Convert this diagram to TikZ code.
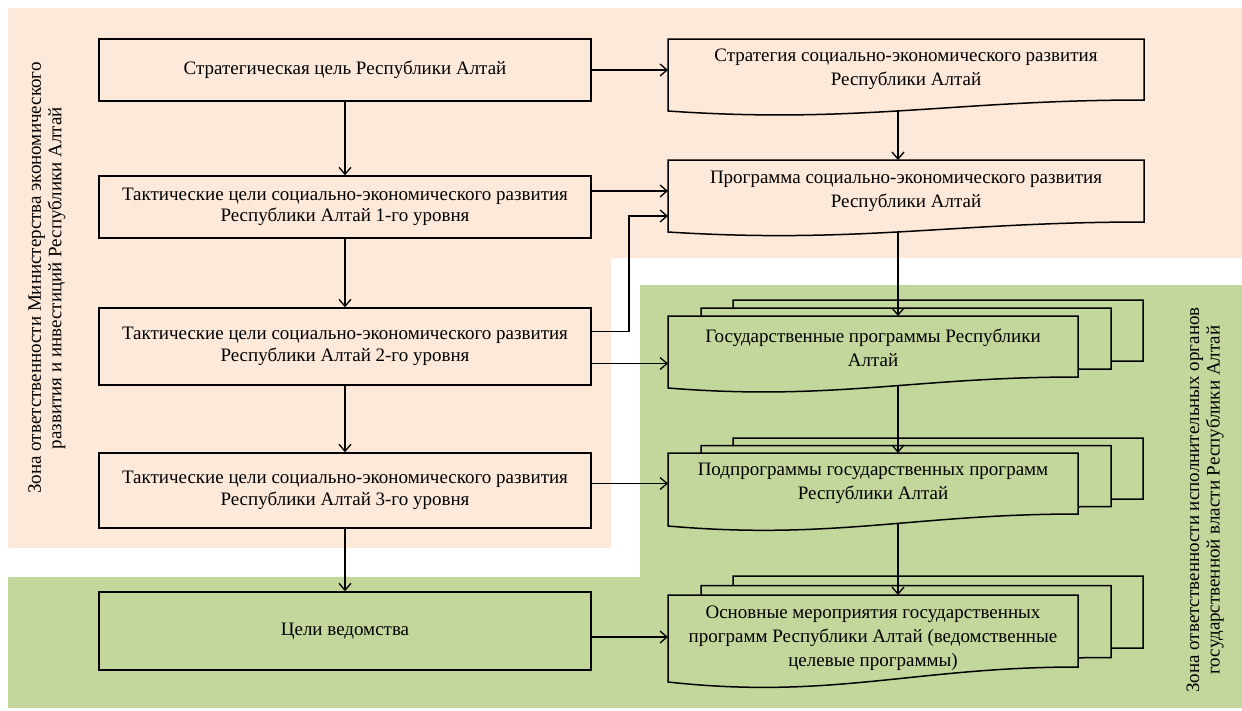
\documentclass[tikz,border=0pt]{standalone}
\usepackage{fontspec}
\setmainfont{Liberation Serif}
\usetikzlibrary{arrows.meta,calc}
\definecolor{peachbg}{HTML}{FDE9D9}
\definecolor{olivebg}{HTML}{C3D69B}
% #1 style, #2 L, #3 T, #4 R, #5 B (right bottom), #6 wave depth
\newcommand\docshape[6]{%
  \path[#1] (#2,#3) -- (#4,#3) -- (#4,#5)
    .. controls ({#4-0.4*(#4-#2)},#5) and ({#2+0.4*(#4-#2)},{#5+2.2*#6}) ..
    (#2,{#5+#6}) -- cycle;}
% #1 name, #2 L, #3 T, #4 R, #5 B, #6 wave depth, #7 layer step y
\newcommand\multidoc[7]{%
  \docshape{docg}{#2+65}{#3-2*#7}{#4+65}{#5-2*#7}{#6}
  \docshape{docg}{#2+33}{#3-#7}{#4+33}{#5-#7}{#6}
  \docshape{docg}{#2}{#3}{#4}{#5}{#6}
  \node[rect, minimum width={(#4-#2)*1pt}, minimum height={(#5-#3)*1pt}] (#1) at (#2,#3) {};}
\tikzset{
  x=1pt, y=-1pt,
  txt/.style={font=\fontsize{19}{21.5}\selectfont, align=center, inner sep=0pt},
  dtxt/.style={font=\fontsize{19}{24}\selectfont, align=center, inner sep=0pt},
  ztxt/.style={font=\fontsize{19}{20.5}\selectfont, align=center, inner sep=0pt, rotate=90},
  lbox/.style={draw, line width=1.5pt, minimum width=492pt, inner sep=0pt, txt},
  docp/.style={draw, line width=1.5pt, fill=peachbg, line join=miter},
  docg/.style={draw, line width=1.5pt, fill=olivebg, line join=miter},
  rect/.style={rectangle, inner sep=0pt, outer sep=0pt, anchor=north west},
  arr/.style={-{Straight Barb[length=7pt,width=12pt,line width=1.3pt]}, line width=1.3pt},
}
\begin{document}
\begin{tikzpicture}
\useasboundingbox (0,0) rectangle (1242,710);
% zones
\fill[peachbg] (8,8) -- (1242,8) -- (1242,258) -- (611,258) -- (611,548) -- (8,548) -- cycle;
\fill[olivebg] (640,285) -- (1242,285) -- (1242,708) -- (8,708) -- (8,577) -- (640,577) -- cycle;
% zone labels
\node[ztxt] (zl) at (47,278)
  {Зона ответственности Министерства экономического\\развития и инвестиций Республики Алтай};
\node[ztxt] (zr) at (1205,500)
  {Зона ответственности исполнительных органов\\государственной власти Республики Алтай};
% left boxes
\node[lbox, minimum height=62pt] (b1) at (345,70) {Стратегическая цель Республики Алтай};
\node[lbox, minimum height=62pt] (b2) at (345,207) {Тактические цели социально-экономического развития\\Республики Алтай 1-го уровня};
\node[lbox, minimum height=77pt] (b3) at (345,346.5) {Тактические цели социально-экономического развития\\Республики Алтай 2-го уровня};
\node[lbox, minimum height=75pt] (b4) at (345,490.5) {Тактические цели социально-экономического развития\\Республики Алтай 3-го уровня};
\node[lbox, minimum height=78pt] (b5) at (345,631) {Цели ведомства};
% right single documents
\docshape{docp}{668}{39}{1144}{100}{11}
\node[rect, minimum width=476pt, minimum height=61pt] (strat) at (668,39) {};
\node[dtxt] (strat-t) at (strat.center) {Стратегия социально-экономического развития\\Республики Алтай};
\docshape{docp}{668}{160}{1144}{222}{10}
\node[rect, minimum width=476pt, minimum height=62pt] (prog) at (668,160) {};
\node[dtxt] (prog-t) at (prog.center) {Программа социально-экономического развития\\Республики Алтай};
% multi documents
\multidoc{gos}{668}{316}{1078}{377}{11}{8}
\node[dtxt, yshift=-1pt] (gos-t) at (gos.center) {Государственные программы Республики\\Алтай};
\multidoc{pod}{668}{453}{1078}{514}{12}{7.5}
\node[dtxt] (pod-t) at (pod.center) {Подпрограммы государственных программ\\Республики Алтай};
\multidoc{osn}{668}{595}{1078}{667}{15}{9.5}
\node[dtxt, yshift=-7pt] (osn-t) at (osn.center) {Основные мероприятия государственных\\программ Республики Алтай (ведомственные\\целевые программы)};
% wave points for outgoing arrows
\coordinate (strat-b) at (898,110);
\coordinate (prog-b) at (898,231);
\coordinate (gos-b) at (898,386);
\coordinate (pod-b) at (898,523);
% left column arrows
\draw[arr] (b1.south) -- (b2.north);
\draw[arr] (b2.south) -- (b3.north);
\draw[arr] (b3.south) -- (b4.north);
\draw[arr] (b4.south) -- (b5.north);
% right column arrows
\draw[arr] (strat-b) -- (strat-b |- prog.north);
\draw[arr] (prog-b) -- (prog-b |- gos.north);
\draw[arr] (gos-b) -- (gos-b |- pod.north);
\draw[arr] (pod-b) -- (pod-b |- osn.north);
% horizontal arrows
\draw[arr] (b1.east) -- (b1.east -| strat.west);
\draw[arr] (prog.west -| b2.east) -- (prog.west);
\coordinate (pj) at ([yshift=-25pt]prog.west);
\draw[arr] ([yshift=15pt]b3.east) -| ([xshift=-39pt]pj) -- (pj);
\coordinate (c3) at ([yshift=-17pt]b3.east);
\draw[arr] (c3) -- (c3 -| gos.west);
\draw[arr] (pod.west -| b4.east) -- (pod.west);
\coordinate (c5) at ([yshift=-6pt]osn.west);
\draw[arr] (c5 -| b5.east) -- (c5);
\end{tikzpicture}
\end{document}
